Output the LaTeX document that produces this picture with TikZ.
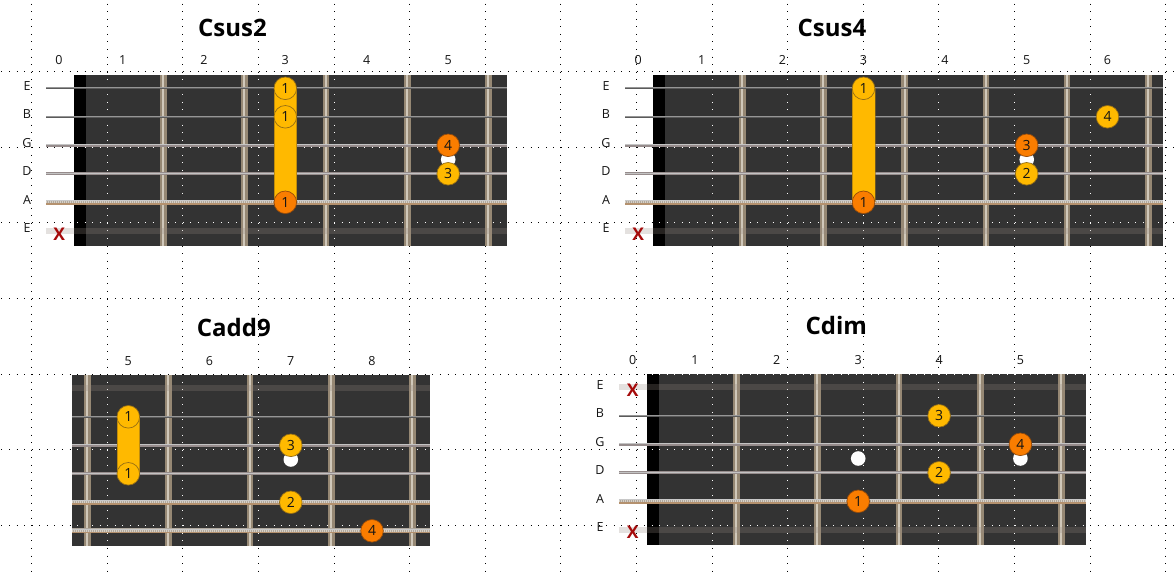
\documentclass[tikz,border=0pt]{standalone}
\usepackage{fontspec}
\setmainfont{Open Sans}
\definecolor{boardc}{RGB}{51,51,51}
\definecolor{fretD}{RGB}{150,136,116}
\definecolor{fretL}{RGB}{208,200,186}
\definecolor{dotY}{RGB}{255,185,0}
\definecolor{dotO}{RGB}{250,125,0}
\definecolor{dotYo}{RGB}{150,110,20}
\definecolor{dotOo}{RGB}{150,75,10}
\definecolor{xred}{RGB}{165,10,10}
\definecolor{sThin}{RGB}{90,90,90}
\definecolor{sThinH}{RGB}{150,150,150}
\definecolor{sMed}{RGB}{150,140,140}
\definecolor{sMedH}{RGB}{195,195,195}
\definecolor{wTop}{RGB}{200,200,200}
\definecolor{wMid}{RGB}{175,168,158}
\definecolor{wMidL}{RGB}{215,208,198}
\definecolor{wBot}{RGB}{180,145,110}
\definecolor{muteC}{RGB}{150,138,128}
\definecolor{txt}{RGB}{20,20,20}
\tikzset{
  lbl/.style={font=\fontsize{12.5}{14}\selectfont, text=txt, inner sep=0pt, anchor=base},
  ttl/.style={font=\fontsize{24}{28}\selectfont\bfseries, text=black, inner sep=0pt, anchor=base},
  fY/.style={circle, inner sep=0pt, minimum size=22.6pt, fill=dotY, draw=dotYo, line width=0.7pt, font=\fontsize{14}{16}\selectfont, text=txt},
  fO/.style={fY, fill=dotO, draw=dotOo},
  inlay/.style={circle, fill=white, inner sep=0pt, minimum size=14.6pt},
  xm/.style={font=\fontsize{17.5}{20}\selectfont\bfseries, text=xred, inner sep=0pt},
  barreside/.style={draw=dotYo, line width=0.6pt, draw opacity=0.6},
}
\newcommand\gridlines[1]{%
  \foreach \k in {0,...,15}{\draw[line width=1pt,draw=#1,dash pattern=on 1pt off 6.56pt] ({31.7+75.6*\k},-3.9) -- ({31.7+75.6*\k},580);}%
  \foreach \k in {0,...,6}{\draw[line width=1pt,draw=#1,dash pattern=on 1pt off 6.56pt] (-6.1,{71.7+75.6*\k}) -- (1180,{71.7+75.6*\k});}%
}
\newcommand\fretbar[3]{%
  \fill[fretD] ({#1-3.3},{#2}) rectangle ({#1+3.3},{#3});
  \fill[fretL] ({#1-1.2},{#2}) rectangle ({#1+0.8},{#3});
}
\newcommand\sthin[3]{%
  \draw[line width=2.2pt, draw=sThin] ({#2},{#1}) -- ({#3},{#1});
  \draw[line width=0.7pt, draw=sThinH] ({#2},{#1-0.5}) -- ({#3},{#1-0.5});
}
\newcommand\smed[3]{%
  \draw[line width=3pt, draw=sMed] ({#2},{#1}) -- ({#3},{#1});
  \draw[line width=1pt, draw=sMedH] ({#2},{#1-0.6}) -- ({#3},{#1-0.6});
}
\newcommand\swound[3]{%
  \draw[line width=5pt, draw=wMid] ({#2},{#1}) -- ({#3},{#1});
  \draw[line width=2pt, draw=wMidL, dash pattern=on 1pt off 1pt] ({#2},{#1}) -- ({#3},{#1});
  \draw[line width=1.2pt, draw=wTop] ({#2},{#1-1.7}) -- ({#3},{#1-1.7});
  \draw[line width=1.2pt, draw=wBot] ({#2},{#1+1.7}) -- ({#3},{#1+1.7});
}
\newcommand\smute[3]{%
  \draw[line width=6pt, draw=muteC, draw opacity=0.25] ({#2},{#1}) -- ({#3},{#1});
}
\begin{document}
\begin{tikzpicture}[x=1pt,y=-1pt]
\useasboundingbox (0,0) rectangle (1175,572);
\fill[white] (0,0) rectangle (1175,572);
\begin{scope}
  \clip (0,0) rectangle (1175,572);
  \gridlines{black}
\end{scope}

% boards
\fill[boardc] (74,75) rectangle (506.7,245.7);
\fill[boardc] (653,75) rectangle (1162.7,245.7);
\fill[boardc] (72,375) rectangle (430,545.7);
\fill[boardc] (647,374) rectangle (1086,545);
\fill[black] (74,75) rectangle (86,245.7);
\fill[black] (653,75) rectangle (665,245.7);
\fill[black] (647,374) rectangle (659,545);
\begin{scope}
  \clip (74,75) rectangle (506.7,245.7) (653,75) rectangle (1162.7,245.7)
        (72,375) rectangle (430,545.7) (647,374) rectangle (1086,545);
  \gridlines{white}
\end{scope}

% frets
\foreach \k in {0,...,4}{\pgfmathsetmacro\fx{163.3+\k*81.3}\fretbar{\fx}{75}{245.7}}
\foreach \k in {0,...,5}{\pgfmathsetmacro\fx{742.3+\k*81.2}\fretbar{\fx}{75}{245.7}}
\foreach \k in {0,...,4}{\pgfmathsetmacro\fx{87.3+\k*81.3}\fretbar{\fx}{375}{545.7}}
\foreach \k in {0,...,4}{\pgfmathsetmacro\fx{736.3+\k*81.3}\fretbar{\fx}{374}{545}}

% strings: Csus2
\sthin{88.3}{46}{506.7}
\sthin{116.8}{46}{506.7}
\smed{145.3}{46}{506.7}
\smed{173.8}{46}{506.7}
\swound{202.3}{46}{506.7}
\smute{230.8}{46}{506.7}
% Csus4
\sthin{88.3}{625}{1162.7}
\sthin{116.8}{625}{1162.7}
\smed{145.3}{625}{1162.7}
\smed{173.8}{625}{1162.7}
\swound{202.3}{625}{1162.7}
\smute{230.8}{625}{1162.7}
% Cadd9
\smute{388.3}{72}{430}
\sthin{416.8}{72}{430}
\smed{445.3}{72}{430}
\smed{473.8}{72}{430}
\swound{502.3}{72}{430}
\swound{530.8}{72}{430}
% Cdim
\smute{387.3}{619.3}{1086}
\sthin{415.8}{619.3}{1086}
\smed{444.3}{619.3}{1086}
\smed{472.8}{619.3}{1086}
\swound{501.3}{619.3}{1086}
\smute{529.8}{619.3}{1086}

% inlays
\node[inlay] (i1a) at (285.3,159.5) {};
\node[inlay] (i1b) at (448.2,159.5) {};
\node[inlay] (i2a) at (863.5,159.5) {};
\node[inlay] (i2b) at (1026.7,159.5) {};
\node[inlay] (i3a) at (128.3,459.5) {};
\node[inlay] (i3b) at (290.8,459.5) {};
\node[inlay] (i4a) at (858.2,458.5) {};
\node[inlay] (i4b) at (1020.4,458.5) {};

% barres
\fill[dotY] (274,88.3) rectangle (296.6,202.3);
\draw[barreside] (274,88.3) -- (274,202.3) (296.6,88.3) -- (296.6,202.3);
\fill[dotY] (852.2,88.3) rectangle (874.8,202.3);
\draw[barreside] (852.2,88.3) -- (852.2,202.3) (874.8,88.3) -- (874.8,202.3);
\fill[dotY] (117,416.8) rectangle (139.6,473.8);
\draw[barreside] (117,416.8) -- (117,473.8) (139.6,416.8) -- (139.6,473.8);

% finger dots Csus2
\node[fY] (a1) at (285.3,88.3) {1};
\node[fY] (a2) at (285.3,116.8) {1};
\node[fO] (a3) at (285.3,202.3) {1};
\node[fO] (a4) at (448.2,145.3) {4};
\node[fY] (a5) at (448.2,173.8) {3};
% Csus4
\node[fY] (b1) at (863.5,88.3) {1};
\node[fO] (b2) at (863.5,202.3) {1};
\node[fO] (b3) at (1026.7,145.3) {3};
\node[fY] (b4) at (1026.7,173.8) {2};
\node[fY] (b5) at (1107.5,116.8) {4};
% Cadd9
\node[fY] (c1) at (128.3,416.8) {1};
\node[fY] (c2) at (128.3,473.8) {1};
\node[fY] (c3) at (290.8,445.3) {3};
\node[fY] (c4) at (290.8,502.3) {2};
\node[fO] (c5) at (372,530.8) {4};
% Cdim
\node[fO] (d1) at (858.2,501.3) {1};
\node[fY] (d2) at (939.1,415.8) {3};
\node[fY] (d3) at (939.1,472.8) {2};
\node[fO] (d4) at (1020.4,444.3) {4};

% X marks
\node[xm] (x1) at (59.3,234) {X};
\node[xm] (x2) at (638.3,234) {X};
\node[xm] (x3) at (632.7,389.8) {X};
\node[xm] (x4) at (632.7,532.3) {X};

% titles
\node[ttl] (t1) at (232.5,36.7) {Csus2};
\node[ttl] (t2) at (832,36.5) {Csus4};
\node[ttl] (t3) at (233.8,336.5) {Cadd9};
\node[ttl] (t4) at (836.3,334) {Cdim};

% fret numbers
\foreach \n/\x in {0/59,1/122.7,2/204,3/285.3,4/366.8,5/448.2}{\node[lbl] (f1n\n) at (\x,65) {\n};}
\foreach \n/\x in {0/638.3,1/701.7,2/782.5,3/863.5,4/945,5/1026.7,6/1107.5}{\node[lbl] (f2n\n) at (\x,65) {\n};}
\foreach \n/\x in {5/128.3,6/209.4,7/290.8,8/372}{\node[lbl] (f3n\n) at (\x,365) {\n};}
\foreach \n/\x in {0/632.7,1/695,2/776.7,3/858.2,4/939.1,5/1020.4}{\node[lbl] (f4n\n) at (\x,364.3) {\n};}

% string letters
\foreach \i/\s/\y in {1/E/90.3,2/B/118.8,3/G/147.3,4/D/175.8,5/A/204.3,6/E/232.8}{
  \node[lbl] (s1l\i) at (27,\y) {\s};
  \node[lbl] (s2l\i) at (606,\y) {\s};
}
\foreach \i/\s/\y in {1/E/389.3,2/B/417.8,3/G/446.3,4/D/474.8,5/A/503.3,6/E/531.8}{
  \node[lbl] (s4l\i) at (600,\y) {\s};
}
\end{tikzpicture}
\end{document}
